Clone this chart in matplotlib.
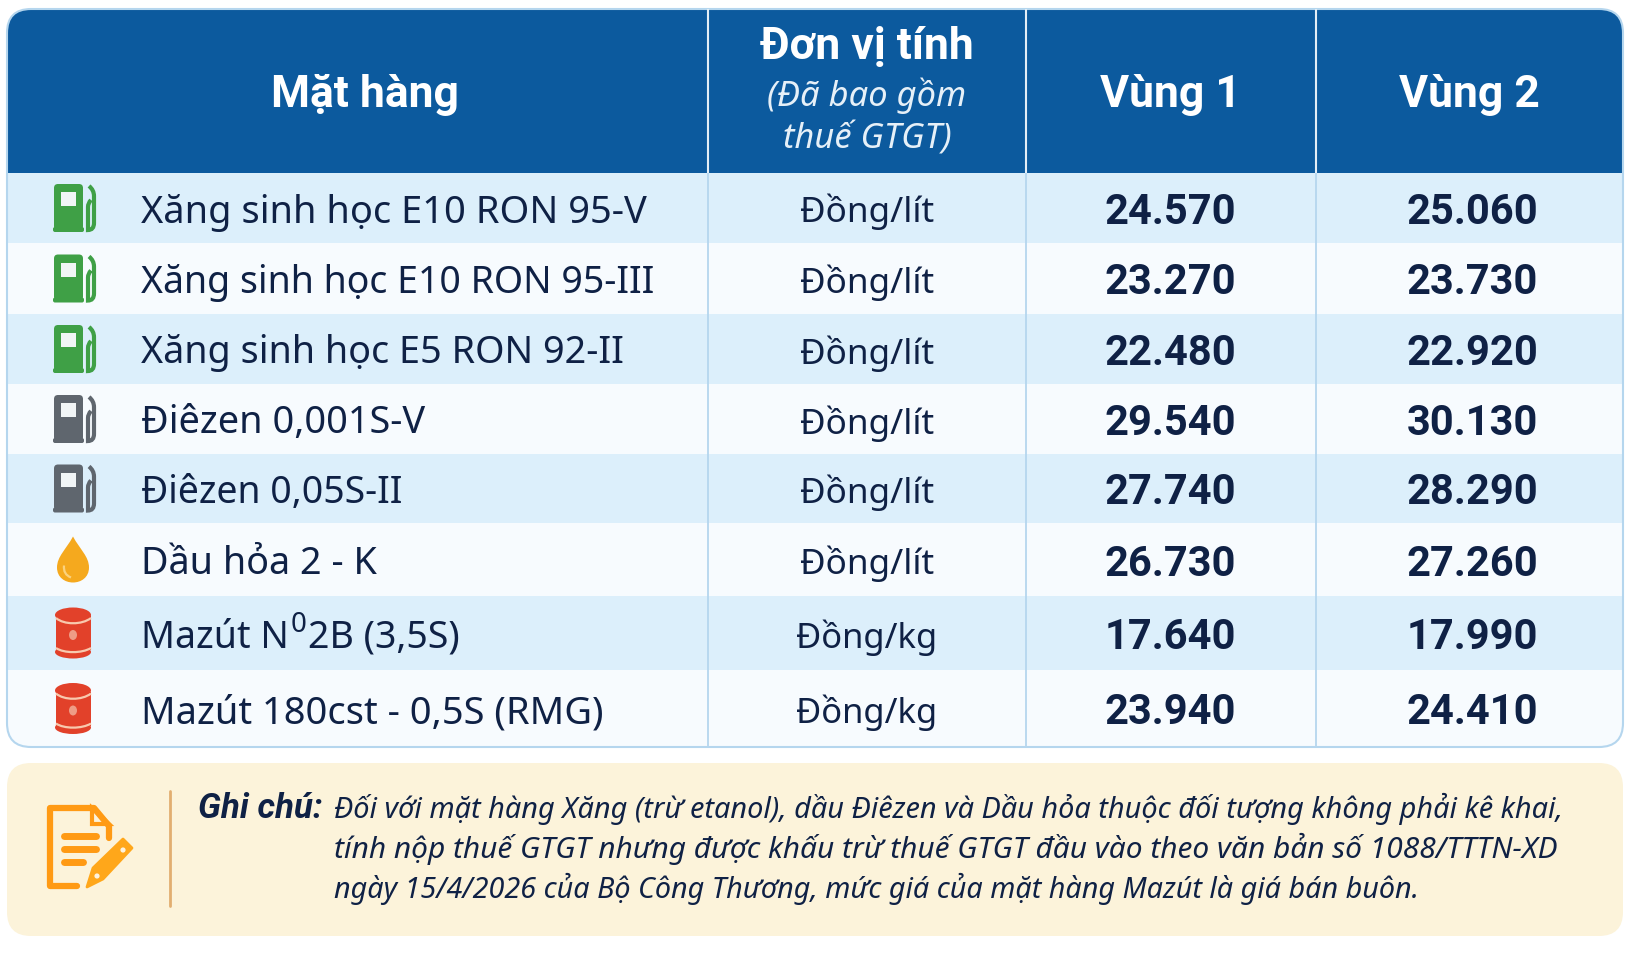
import matplotlib
matplotlib.use('Agg')
import matplotlib.pyplot as plt
from matplotlib.patches import FancyBboxPatch, Rectangle, Ellipse, Circle, PathPatch, Polygon
from matplotlib.path import Path

# table content
products = ['Xăng sinh học E10 RON 95-V', 'Xăng sinh học E10 RON 95-III', 'Xăng sinh học E5 RON 92-II',
            'Điêzen 0,001S-V', 'Điêzen 0,05S-II', 'Dầu hỏa 2 - K',
            ('Mazút N', '0', '2B (3,5S)'), 'Mazút 180cst - 0,5S (RMG)']
units = ['Đồng/lít'] * 6 + ['Đồng/kg'] * 2
vung1 = [24570, 23270, 22480, 29540, 27740, 26730, 17640, 23940]
vung2 = [25060, 23730, 22920, 30130, 28290, 27260, 17990, 24410]
icons = ['green', 'green', 'green', 'grey', 'grey', 'drop', 'barrel', 'barrel']
note_head = 'Ghi chú:'
note_lines = ['Đối với mặt hàng Xăng (trừ etanol), dầu Điêzen và Dầu hỏa thuộc đối tượng không phải kê khai,',
              'tính nộp thuế GTGT nhưng được khấu trừ thuế GTGT đầu vào theo văn bản số 1088/TTTN-XD',
              'ngày 15/4/2026 của Bộ Công Thương, mức giá của mặt hàng Mazút là giá bán buôn.']

# layout in pixels
row_edges = [173, 243, 314, 384, 454, 523, 596, 670, 747]
col_edges = [708, 1026, 1316]
name_sizes = [27.4, 27.0, 27.2, 27.3, 26.9, 27.2, 27.0, 27.4]
unit_sizes = [25.3] * 6 + [24.9] * 2
NAVY = '#0F2145'
BLUE = '#0C5A9E'
BOLD = ['Roboto', 'Liberation Sans', 'DejaVu Sans']

plt.rcParams['font.family'] = ['Noto Sans', 'DejaVu Sans']
fig = plt.figure(figsize=(16.3, 9.65), dpi=100, facecolor='white')
ax = fig.add_axes([0, 0, 1, 1])
ax.set_xlim(0, 1630)
ax.set_ylim(965, 0)
ax.axis('off')


def pump(cy, color):
    # fuel pump icon, cy = row centre
    ax.add_patch(FancyBboxPatch((54, cy - 24), 29, 46, boxstyle='round,pad=0,rounding_size=4', fc=color, ec='none', zorder=3))
    ax.add_patch(FancyBboxPatch((53, cy + 19), 31, 5, boxstyle='round,pad=0,rounding_size=2', fc=color, ec='none', zorder=3))
    ax.add_patch(Rectangle((61, cy - 16), 15, 14, fc='#F1F5F6', ec='none', zorder=4))
    hose = Path([(89, cy - 22), (94, cy - 18), (94, cy - 12), (94, cy + 15), (94, cy + 22), (88, cy + 22), (88, cy + 15), (88, cy - 1), (88, cy - 5), (91, cy - 8)],
                [Path.MOVETO, Path.CURVE3, Path.CURVE3, Path.LINETO, Path.CURVE3, Path.CURVE3, Path.LINETO, Path.LINETO, Path.CURVE3, Path.CURVE3])
    ax.add_patch(PathPatch(hose, fc='none', ec=color, lw=3, zorder=3))


def drop(cy):
    verts = [(73, cy - 23), (66, cy - 10), (57, cy - 3), (57, cy + 8), (57, cy + 18), (65, cy + 23), (73, cy + 23),
             (81, cy + 23), (89, cy + 18), (89, cy + 8), (89, cy - 3), (80, cy - 10), (73, cy - 23)]
    codes = [Path.MOVETO] + [Path.CURVE4] * 12
    ax.add_patch(PathPatch(Path(verts, codes), fc='#F5A91E', ec='none', zorder=3))
    arc = Path([(64, cy + 6), (63, cy + 15), (71, cy + 18)], [Path.MOVETO, Path.CURVE3, Path.CURVE3])
    ax.add_patch(PathPatch(arc, fc='none', ec='#FBD27E', lw=1.6, zorder=4))


def barrel(cy):
    red = '#E2412A'
    light = '#F8C9AE'
    ax.add_patch(Ellipse((73, cy + 19), 36, 13, fc=red, ec='none', zorder=3))
    ax.add_patch(Rectangle((56, cy - 17), 35, 34, fc=red, ec='none', zorder=3))
    ax.add_patch(Ellipse((73, cy - 18), 36, 15, fc=red, ec='none', zorder=4))
    for yy, h in [(cy - 15, 14), (cy + 15, 11)]:
        band = Path([(56, yy), (64, yy + h / 2), (82, yy + h / 2), (91, yy)], [Path.MOVETO, Path.CURVE4, Path.CURVE4, Path.CURVE4])
        ax.add_patch(PathPatch(band, fc='none', ec=light, lw=1.6, zorder=5))
    ax.add_patch(Ellipse((73, cy + 2), 8, 10, fc='#EE9C86', ec='none', zorder=5))


# table body, clipped to the rounded frame
frame = FancyBboxPatch((7, 9), 1616, 738, boxstyle='round,pad=0,rounding_size=24', fc='#F7FBFE', ec='none', zorder=1)
ax.add_patch(frame)
hdr = Rectangle((7, 9), 1616, row_edges[0] - 9, fc=BLUE, ec='none', zorder=1.2)
ax.add_patch(hdr)
hdr.set_clip_path(frame)
for i in range(len(products)):
    top, bot = row_edges[i], row_edges[i + 1]
    band = Rectangle((7, top), 1616, bot - top, fc='#DCEFFB' if i % 2 == 0 else '#F7FBFE', ec='none', zorder=1.2)
    ax.add_patch(band)
    band.set_clip_path(frame)
ax.add_patch(FancyBboxPatch((7, 9), 1616, 738, boxstyle='round,pad=0,rounding_size=24', fc='none', ec='#B5D6EE', lw=1.5, zorder=2))
for x in col_edges:
    ax.plot([x, x], [9, row_edges[0]], color='#E4EEF6', lw=1.5, zorder=2.5, solid_capstyle='butt')
    ax.plot([x, x], [row_edges[0], 746], color='#B5D6EE', lw=1.3, zorder=2.5, solid_capstyle='butt')

# header text
ax.text(365, 107, 'Mặt hàng', color='white', fontsize=32, fontweight='bold', family=BOLD, ha='center', va='baseline', zorder=6)
ax.text(867, 59, 'Đơn vị tính', color='white', fontsize=32, fontweight='bold', family=BOLD, ha='center', va='baseline', zorder=6)
ax.text(867, 106, '(Đã bao gồm', color='#E6F0F8', fontsize=24.8, style='italic', ha='center', va='baseline', zorder=6)
ax.text(867, 149, 'thuế GTGT)', color='#E6F0F8', fontsize=24.8, style='italic', ha='center', va='baseline', zorder=6)
ax.text(1170, 107, 'Vùng 1', color='white', fontsize=32, fontweight='bold', family=BOLD, ha='center', va='baseline', zorder=6)
ax.text(1469, 107, 'Vùng 2', color='white', fontsize=32, fontweight='bold', family=BOLD, ha='center', va='baseline', zorder=6)

renderer = fig.canvas.get_renderer()
for i, name in enumerate(products):
    cy = (row_edges[i] + row_edges[i + 1]) / 2
    base = cy + 14.5
    fs = name_sizes[i]
    if isinstance(name, tuple):
        # superscript piece needs measured positions
        t = ax.text(141, base, name[0], color=NAVY, fontsize=fs, va='baseline', zorder=6)
        x1 = t.get_window_extent(renderer).x1 + 2
        t2 = ax.text(x1, base - 16, name[1], color=NAVY, fontsize=20, va='baseline', zorder=6)
        x2 = t2.get_window_extent(renderer).x1 + 1
        ax.text(x2, base, name[2], color=NAVY, fontsize=fs, va='baseline', zorder=6)
    else:
        ax.text(141, base, name, color=NAVY, fontsize=fs, va='baseline', zorder=6)
    ax.text(867, base, units[i], color=NAVY, fontsize=unit_sizes[i], ha='center', va='baseline', zorder=6)
    ax.text(1170, base + 1.5, f'{vung1[i]:,}'.replace(',', '.'), color=NAVY, fontsize=30, fontweight='bold', family=BOLD, ha='center', va='baseline', zorder=6)
    ax.text(1472, base + 1.5, f'{vung2[i]:,}'.replace(',', '.'), color=NAVY, fontsize=30, fontweight='bold', family=BOLD, ha='center', va='baseline', zorder=6)
    kind = icons[i]
    if kind == 'green':
        pump(cy, '#3FA046')
    elif kind == 'grey':
        pump(cy, '#5F666E')
    elif kind == 'drop':
        drop(cy)
    else:
        barrel(cy)

# note box
ax.add_patch(FancyBboxPatch((7, 763), 1616, 173, boxstyle='round,pad=0,rounding_size=24', fc='#FCF3DA', ec='none', zorder=1))
ax.plot([170, 170], [791, 906], color='#E2AE70', lw=2, zorder=2, solid_capstyle='round')
ax.text(198, 818, note_head, color=NAVY, fontsize=25, fontweight='bold', style='italic', family=BOLD, va='baseline', zorder=6)
for line, yy, fs in zip(note_lines, [818, 858, 898], [20.8, 21.5, 20.7]):
    ax.text(334, yy, line, color=NAVY, fontsize=fs, style='italic', va='baseline', zorder=6)

# note icon: page, fold, text lines, pencil
ORANGE = '#FF9A14'
page = Path([(77, 886), (50, 886), (50, 808), (94, 808), (109, 826), (109, 838)],
            [Path.MOVETO, Path.LINETO, Path.LINETO, Path.LINETO, Path.LINETO, Path.LINETO])
ax.add_patch(PathPatch(page, fc='none', ec=ORANGE, lw=4.5, joinstyle='round', capstyle='round', zorder=3))
ax.add_patch(Polygon([(92, 808), (92, 824), (109, 824)], closed=True, fc='none', ec=ORANGE, lw=3, zorder=3))
for x1, yy in [(96, 836), (96, 849), (83, 862)]:
    ax.plot([64, x1], [yy, yy], color=ORANGE, lw=5, solid_capstyle='round', zorder=3)
ax.add_patch(Polygon([(87, 887), (93, 868), (123, 839), (132, 848), (103, 879)], closed=True, fc='#FFA71A', ec='#FFA71A', lw=2, joinstyle='round', zorder=3))
ax.add_patch(Circle((123, 850), 2.6, fc='#FDF3DE', ec='none', zorder=4))
ax.add_patch(Circle((97, 876), 2.6, fc='#FDF3DE', ec='none', zorder=4))

fig.savefig('out.png', dpi=100)
